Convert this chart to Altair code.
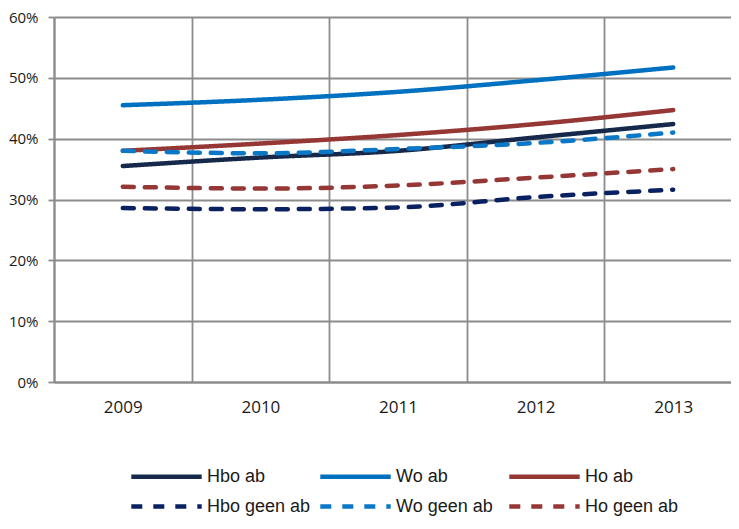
import altair as alt
import pandas as pd

years = ["2009", "2010", "2011", "2012", "2013"]
series = ["Hbo ab", "Wo ab", "Ho ab", "Hbo geen ab", "Wo geen ab", "Ho geen ab"]
hbo_ab = [35.5, 36.9, 38.0, 40.2, 42.4]
wo_ab = [45.5, 46.4, 47.7, 49.6, 51.7]
ho_ab = [38.0, 39.2, 40.6, 42.4, 44.7]
hbo_geen_ab = [28.6, 28.4, 28.7, 30.4, 31.6]
wo_geen_ab = [38.0, 37.6, 38.3, 39.3, 41.0]
ho_geen_ab = [32.1, 31.8, 32.3, 33.6, 35.0]
y_ticks = [0, 10, 20, 30, 40, 50, 60]

colors = ["#17294A", "#0070C0", "#953735", "#0A2161", "#0A78C6", "#953735"]
dashes = [[1, 0], [1, 0], [1, 0], [11, 11], [11, 11], [11, 11]]

values = [hbo_ab, wo_ab, ho_ab, hbo_geen_ab, wo_geen_ab, ho_geen_ab]
rows = []
for s, vals in zip(series, values):
    for yr, v in zip(years, vals):
        rows.append({"series": s, "year": yr, "value": v})
df = pd.DataFrame(rows)

legend = alt.Legend(
    title=None,
    orient="none",
    direction="horizontal",
    legendX=75,
    legendY=446,
    columns=3,
    symbolType="M-3.2,0H3.2",
    symbolSize=484,
    symbolOffset=24,
    symbolStrokeWidth=4.5,
    labelFont="Liberation Sans",
    labelFontSize=18,
    labelColor="#1a1a1a",
    labelOffset=27,
    columnPadding=0,
    rowPadding=7,
    gridAlign="all",
    labelLimit=300,
)

chart = (
    alt.Chart(df)
    .mark_line(strokeWidth=4.5, strokeCap="round", interpolate="monotone")
    .encode(
        x=alt.X(
            "year:N",
            sort=years,
            scale=alt.Scale(type="band", paddingInner=0, paddingOuter=0),
            axis=alt.Axis(
                title=None,
                labelAngle=0,
                labelFont="Open Sans",
                labelFontSize=17,
                labelColor="#1a1a1a",
                labelPadding=17,
                ticks=False,
                tickBand="extent",
                grid=True,
                gridColor="#8c8c8c",
                gridWidth=1.8,
                domainColor="#8c8c8c",
                domainWidth=2,
            ),
        ),
        y=alt.Y(
            "value:Q",
            scale=alt.Scale(domain=[0, 60], nice=False),
            axis=alt.Axis(
                title=None,
                values=y_ticks,
                labelExpr="datum.value + '%'",
                labelFont="Open Sans",
                labelFontSize=15,
                labelColor="#1a1a1a",
                labelPadding=10,
                tickSize=6,
                tickColor="#8c8c8c",
                tickWidth=1.8,
                grid=True,
                gridColor="#8c8c8c",
                gridWidth=1.8,
                domainColor="#8c8c8c",
                domainWidth=2,
            ),
        ),
        color=alt.Color(
            "series:N",
            scale=alt.Scale(domain=series, range=colors),
            sort=series,
            legend=legend,
        ),
        strokeDash=alt.StrokeDash(
            "series:N",
            scale=alt.Scale(domain=series, range=dashes),
            sort=series,
            legend=legend,
        ),
    )
    .properties(
        width=688,
        height=365,
        autosize=alt.AutoSizeParams(type="none"),
        padding={"left": 46, "top": 9, "right": -11, "bottom": 134},
    )
    .configure_view(stroke=None)
)

chart.save("out.html", embed_options={"renderer": "svg", "actions": False})
